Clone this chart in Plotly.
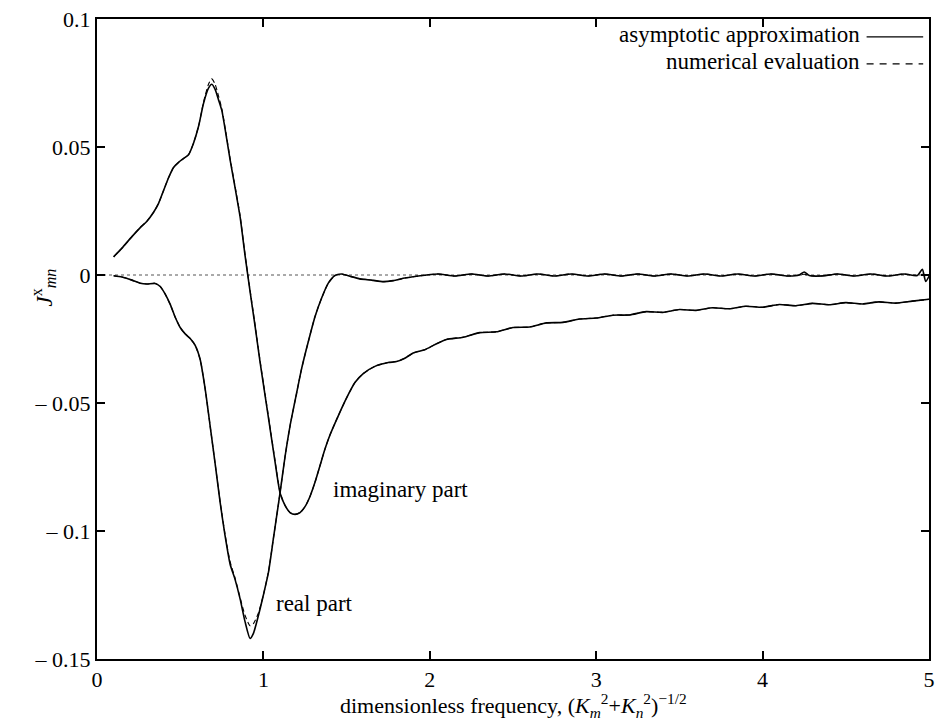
import plotly.graph_objects as go

# Imaginary part: asymptotic approximation (solid) and numerical evaluation (dashed)
imag_x = [0.10, 0.15, 0.21, 0.26, 0.30, 0.34, 0.37, 0.40, 0.43, 0.46, 0.49, 0.52,
          0.55, 0.58, 0.61, 0.64, 0.67, 0.69, 0.71, 0.73, 0.75, 0.78, 0.80, 0.83,
          0.86, 0.89, 0.92, 0.95, 0.98, 1.01, 1.04, 1.07, 1.10, 1.13, 1.16, 1.19,
          1.22, 1.25, 1.28, 1.31, 1.34, 1.37, 1.40, 1.45, 1.50, 1.55, 1.60, 1.67,
          1.75, 1.80, 1.85, 1.90, 1.97, 2.03, 2.10, 2.20, 2.30, 2.40, 2.50, 2.60,
          2.70, 2.80, 2.90, 3.00, 3.10, 3.20, 3.30, 3.40, 3.50, 3.60, 3.70, 3.80,
          3.90, 4.00, 4.10, 4.20, 4.30, 4.40, 4.50, 4.60, 4.70, 4.80, 4.90, 5.00]
imag_asym = [0.0071, 0.0105, 0.0150, 0.0185, 0.0210, 0.0245, 0.0280, 0.0330, 0.0380,
             0.0420, 0.0440, 0.0455, 0.0470, 0.0515, 0.0580, 0.0670, 0.0730, 0.0745,
             0.0725, 0.0685, 0.0643, 0.0530, 0.0450, 0.0340, 0.0227, 0.0075, -0.0065,
             -0.0200, -0.0340, -0.0470, -0.0600, -0.0730, -0.0851, -0.0900, -0.0928,
             -0.0935, -0.0928, -0.0905, -0.0865, -0.0810, -0.0745, -0.0680, -0.0625,
             -0.0550, -0.0480, -0.0420, -0.0385, -0.0357, -0.0342, -0.0338, -0.0325,
             -0.0305, -0.0292, -0.0272, -0.0252, -0.0243, -0.0225, -0.0222, -0.0205,
             -0.0203, -0.0187, -0.0185, -0.0172, -0.0168, -0.0157, -0.0156, -0.0143,
             -0.0146, -0.0135, -0.0138, -0.0128, -0.0132, -0.0122, -0.0126, -0.0115,
             -0.0120, -0.0111, -0.0116, -0.0108, -0.0113, -0.0105, -0.0110, -0.0102,
             -0.0095]
imag_num = [0.0071, 0.0105, 0.0150, 0.0185, 0.0210, 0.0245, 0.0280, 0.0330, 0.0380,
            0.0420, 0.0440, 0.0455, 0.0470, 0.0515, 0.0580, 0.0675, 0.0745, 0.0766,
            0.0745, 0.0700, 0.0650, 0.0535, 0.0455, 0.0345, 0.0232, 0.0080, -0.0060,
            -0.0195, -0.0335, -0.0465, -0.0595, -0.0725, -0.0848, -0.0900, -0.0928,
            -0.0935, -0.0928, -0.0905, -0.0865, -0.0810, -0.0745, -0.0680, -0.0625,
            -0.0550, -0.0480, -0.0420, -0.0385, -0.0357, -0.0342, -0.0338, -0.0325,
            -0.0305, -0.0292, -0.0272, -0.0252, -0.0243, -0.0225, -0.0222, -0.0205,
            -0.0203, -0.0187, -0.0185, -0.0172, -0.0168, -0.0157, -0.0156, -0.0143,
            -0.0146, -0.0135, -0.0138, -0.0128, -0.0132, -0.0122, -0.0126, -0.0115,
            -0.0120, -0.0111, -0.0116, -0.0108, -0.0113, -0.0105, -0.0110, -0.0102,
            -0.0095]

# Real part: asymptotic approximation (solid) and numerical evaluation (dashed)
real_x = [0.10, 0.15, 0.21, 0.26, 0.30, 0.35, 0.38, 0.41, 0.44, 0.47, 0.50, 0.53,
          0.56, 0.59, 0.62, 0.65, 0.68, 0.71, 0.74, 0.77, 0.80, 0.83, 0.86, 0.89,
          0.92, 0.94, 0.97, 1.00, 1.03, 1.06, 1.10, 1.13, 1.16, 1.20, 1.23, 1.27,
          1.31, 1.35, 1.39, 1.43, 1.47, 1.52, 1.58, 1.65, 1.72, 1.78, 1.85, 1.91,
          1.97, 2.05, 2.15, 2.25, 2.35, 2.45, 2.55, 2.65, 2.75, 2.85, 2.95, 3.05,
          3.15, 3.25, 3.35, 3.45, 3.55, 3.65, 3.75, 3.85, 3.95, 4.05, 4.15, 4.22,
          4.25, 4.28, 4.35, 4.45, 4.55, 4.65, 4.75, 4.85, 4.93, 4.96, 4.98, 5.00]
real_asym = [-0.0003, -0.0008, -0.0020, -0.0032, -0.0035, -0.0033, -0.0045, -0.0075,
             -0.0115, -0.0165, -0.0205, -0.0230, -0.0248, -0.0275, -0.0330, -0.0445,
             -0.0590, -0.0737, -0.0888, -0.1020, -0.1130, -0.1190, -0.1265, -0.1355,
             -0.1420, -0.1400, -0.1330, -0.1250, -0.1163, -0.1030, -0.0851, -0.0710,
             -0.0590, -0.0460, -0.0365, -0.0260, -0.0163, -0.0090, -0.0032, -0.0002,
             0.0004, -0.0005, -0.0015, -0.0020, -0.0026, -0.0022, -0.0012, -0.0006,
             -0.0001, 0.0004, -0.0004, 0.0004, -0.0004, 0.0004, -0.0004, 0.0004,
             -0.0004, 0.0004, -0.0004, 0.0004, -0.0004, 0.0004, -0.0004, 0.0004,
             -0.0004, 0.0004, -0.0004, 0.0004, -0.0004, 0.0004, -0.0004, 0.0000,
             0.0012, -0.0002, -0.0004, 0.0004, -0.0004, 0.0004, -0.0004, 0.0004,
             -0.0002, 0.0022, -0.0025, -0.0005]
real_num = [-0.0003, -0.0008, -0.0020, -0.0032, -0.0035, -0.0033, -0.0045, -0.0075,
            -0.0115, -0.0165, -0.0205, -0.0230, -0.0248, -0.0275, -0.0330, -0.0445,
            -0.0590, -0.0737, -0.0885, -0.1015, -0.1120, -0.1185, -0.1260, -0.1330,
            -0.1370, -0.1362, -0.1320, -0.1250, -0.1160, -0.1030, -0.0851, -0.0710,
            -0.0590, -0.0460, -0.0365, -0.0260, -0.0163, -0.0090, -0.0032, -0.0002,
            0.0004, -0.0005, -0.0015, -0.0020, -0.0026, -0.0022, -0.0012, -0.0006,
            -0.0001, 0.0004, -0.0004, 0.0004, -0.0004, 0.0004, -0.0004, 0.0004,
            -0.0004, 0.0004, -0.0004, 0.0004, -0.0004, 0.0004, -0.0004, 0.0004,
            -0.0004, 0.0004, -0.0004, 0.0004, -0.0004, 0.0004, -0.0004, 0.0000,
            0.0003, -0.0002, -0.0004, 0.0004, -0.0004, 0.0004, -0.0004, 0.0004,
            -0.0002, 0.0003, -0.0003, -0.0005]

x_ticks = [0, 1, 2, 3, 4, 5]
x_tick_labels = ["0", "1", "2", "3", "4", "5"]
y_ticks = [0.1, 0.05, 0, -0.05, -0.1, -0.15]
y_tick_labels = ["0.1", "0.05", "0", "\u2013 0.05", "\u2013 0.1", "\u2013 0.15"]

FONT = "Liberation Serif, Times New Roman, serif"
TEXT_SIZE = 23

fig = go.Figure()

for xs, ys in [(imag_x, imag_asym), (real_x, real_asym)]:
    fig.add_trace(go.Scatter(x=xs, y=ys, mode="lines", showlegend=False,
                             line=dict(color="black", width=1.6, shape="spline", smoothing=0.6),
                             hoverinfo="skip"))
for xs, ys in [(imag_x, imag_num), (real_x, real_num)]:
    fig.add_trace(go.Scatter(x=xs, y=ys, mode="lines", showlegend=False,
                             line=dict(color="black", width=1.1, dash="5px,3px",
                                       shape="spline", smoothing=0.6),
                             hoverinfo="skip"))

# dotted zero reference line
fig.add_shape(type="line", xref="paper", x0=0, x1=1, yref="y", y0=0, y1=0,
              line=dict(color="#555", width=1, dash="dot"), layer="below")

# legend entries drawn as text plus sample lines
legend_rows = [("asymptotic approximation", "solid", 0.976),
               ("numerical evaluation", "7px,6px", 0.934)]
for label, dash, yp in legend_rows:
    fig.add_annotation(text=label, xref="paper", yref="paper", x=0.919, y=yp,
                       xanchor="right", yanchor="middle", showarrow=False,
                       font=dict(family=FONT, size=TEXT_SIZE, color="black"))
    fig.add_shape(type="line", xref="paper", yref="paper", x0=0.925, x1=0.993,
                  y0=yp - 0.004, y1=yp - 0.004, line=dict(color="black", width=1.3, dash=dash))

# curve labels
fig.add_annotation(text="imaginary part", x=1.405, y=-0.0838, xanchor="left", yanchor="middle",
                   showarrow=False, font=dict(family=FONT, size=TEXT_SIZE, color="black"))
fig.add_annotation(text="real part", x=1.065, y=-0.1285, xanchor="left", yanchor="middle",
                   showarrow=False, font=dict(family=FONT, size=TEXT_SIZE, color="black"))

# axis titles
fig.add_annotation(text="<i>J</i><sup>x</sup><sub><i>mn</i></sub>", xref="paper", yref="paper",
                   x=-0.064, y=0.58, textangle=-90, showarrow=False,
                   xanchor="center", yanchor="middle",
                   font=dict(family=FONT, size=TEXT_SIZE, color="black"))
fig.add_annotation(text="dimensionless frequency, (<i>K</i><sub><i>m</i></sub><sup>2</sup>+"
                        "<i>K</i><sub><i>n</i></sub><sup>2</sup>)<sup>\u22121/2</sup>",
                   xref="paper", yref="paper", x=0.5, y=-0.072, showarrow=False,
                   xanchor="center", yanchor="middle",
                   font=dict(family=FONT, size=22, color="black"))

axis_common = dict(showgrid=False, zeroline=False, showline=True, linecolor="black",
                   linewidth=2, mirror="allticks", ticks="inside", ticklen=8,
                   tickwidth=1.5, tickcolor="black",
                   tickfont=dict(family=FONT, size=22, color="black"))

fig.update_layout(
    width=942, height=720,
    margin=dict(l=97, r=7, t=19, b=61),
    paper_bgcolor="white", plot_bgcolor="white",
    xaxis=dict(range=[0, 5], tickvals=x_ticks, ticktext=x_tick_labels, **axis_common),
    yaxis=dict(range=[-0.15, 0.1], tickvals=y_ticks, ticktext=y_tick_labels, **axis_common),
)

fig.write_html("out.html")
